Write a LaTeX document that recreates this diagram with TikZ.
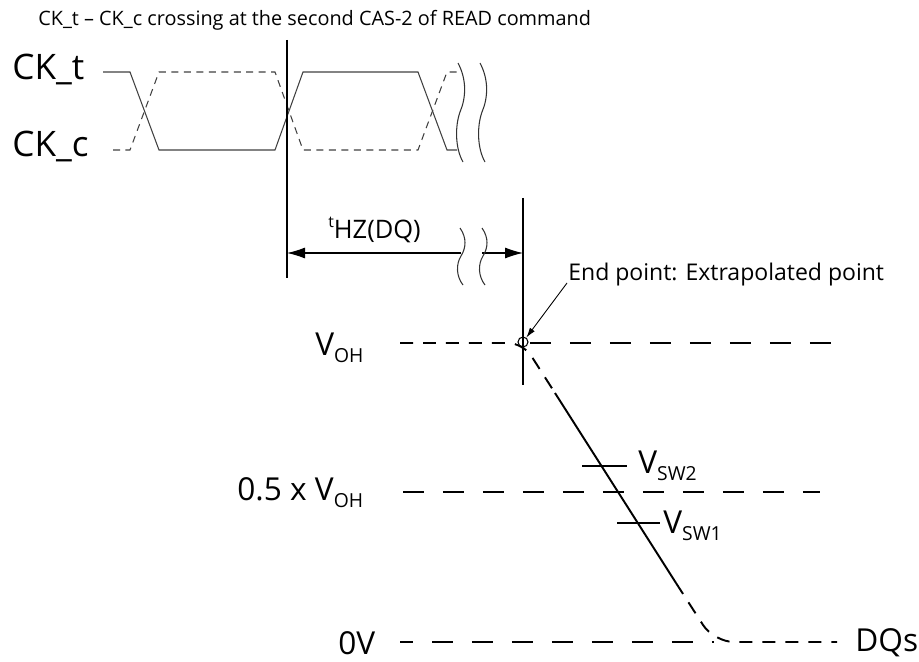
\documentclass[tikz,border=0pt]{standalone}
\usepackage{fontspec}
\setmainfont{Open Sans}
\usetikzlibrary{positioning,arrows.meta,calc}

\newcommand{\lowsub}[1]{\raisebox{-0.45ex}{\fontsize{11}{11}\selectfont #1}}

\begin{document}
\begin{tikzpicture}[
  x=0.02cm, y=-0.02cm,
  ttl/.style={anchor=base west, inner sep=0pt, font=\fontsize{11.3}{13}\selectfont},
  sig/.style={anchor=base west, inner sep=0pt, font=\fontsize{20}{22}\selectfont},
  lvl/.style={anchor=base west, inner sep=0pt, font=\fontsize{18}{20}\selectfont},
  clk/.style={line width=0.6pt, black!75},
  clkdash/.style={clk, dash pattern=on 0.14cm off 0.11cm},
  vline/.style={line width=0.6pt},
  brk/.style={line width=0.6pt, black!80},
  ref/.style={line width=0.65pt, dash pattern=on 0.42cm off 0.38cm},
  dq/.style={line width=1.1pt},
  dqdash/.style={dq, dash pattern=on 0.26cm off 0.2cm},
  dim/.style={line width=0.6pt},
  tip/.style={-{Latex[length=0.36cm,width=0.22cm]}},
]
\useasboundingbox (0,0) rectangle (919,662);

% --- title ---
\node[ttl] (title) at (38,26) {CK\_t -- CK\_c crossing at the second CAS-2 of READ command};

% --- clock ---
\node[sig] (ckt) at (12,80) {CK\_t};
\node[sig] (ckc) at (12,157) {CK\_c};
\draw[clk] (103,72) -- (130,72) -- (159,150) -- (275,150) -- (303,72)
  -- (418,72) -- (447,150) -- (457,150);
\draw[clkdash] (113,150) -- (130,150) -- (159,72) -- (275,72) -- (303,150)
  -- (418,150) -- (447,72) -- (460,72);
\foreach \dx in {0,22} {
  \draw[brk, shift={(\dx,0)}] (458,63) .. controls (467,80) and (466,98) .. (460,112)
    .. controls (455,126) and (455,148) .. (463,162);
}

% --- reference lines ---
\coordinate (xtop) at (287,40);
\coordinate (xbot) at (287,278);
\coordinate (etop) at (523,198);
\coordinate (ebot) at (523,385);
\draw[vline] (xtop) -- (xbot);
\draw[vline] (etop) -- (ebot);

% --- tHZ(DQ) ---
\coordinate (hzL) at (287,253);
\coordinate (hzR) at (523,253);
\coordinate (hzA) at (461,253);
\coordinate (hzB) at (482,253);
\draw[dim, tip] (hzA) -- (hzL);
\draw[dim, tip] (hzB) -- (hzR);
\foreach \dx in {0,22} {
  \draw[brk, shift={(\dx,0)}] (460,228) .. controls (467,238) and (466,248) .. (461,256)
    .. controls (456,264) and (456,276) .. (463,285);
}
\node[ttl, font=\fontsize{14.5}{16}\selectfont] (thz) at (328,238)
  {\raisebox{0.75ex}{\fontsize{9}{9}\selectfont t}HZ(DQ)};

% --- levels ---
\node[lvl] (voh) at (315,355) {V\lowsub{OH}};
\node[lvl] (vhalf) at (237,500) {0.5 x V\lowsub{OH}};
\node[lvl] (vzero) at (338,654) {0V};
\draw[ref, dash phase=0.66cm] (523,343) -- (837,343);
\draw[ref] (403,492) -- (820,492);
\draw[ref, dash phase=0.16cm] (400,642) -- (714,642);

% --- DQ output ---
\node[circle, draw, line width=0.6pt, minimum size=0.2cm, inner sep=0pt] (ep) at (523,342) {};
\draw[dqdash, rounded corners=0.3cm] (400,343) -- (523,343) -- (555,393);
\draw[dq] (555,393) -- (676,583);
\draw[dqdash, rounded corners=0.4cm] (676,583) -- (714,642) -- (837,642);
\node[lvl] (dqs) at (855,651) {DQs};

% --- switching points ---
\draw[vline] (582,466) -- (627,466);
\draw[vline] (617,523) -- (660,523);
\node[lvl] (vsw2) at (638,473) {V\lowsub{SW2}};
\node[lvl] (vsw1) at (663,533) {V\lowsub{SW1}};

% --- end point ---
\node[ttl, font=\fontsize{13.1}{15}\selectfont] (endtxt) at (568,280) {End point: Extrapolated point};
\draw[line width=0.5pt, -{Latex[length=0.2cm,width=0.12cm]}] ($(endtxt.base west)+(-1,3)$) -- (ep);
\end{tikzpicture}
\end{document}
